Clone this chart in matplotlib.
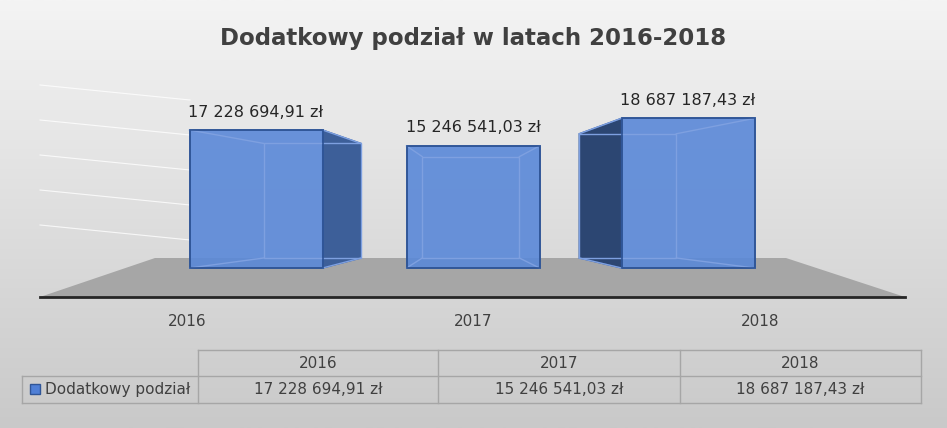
import matplotlib
matplotlib.use("Agg")
import matplotlib.pyplot as plt
import numpy as np
from matplotlib.patches import Polygon, Rectangle

years = ["2016", "2017", "2018"]
values = [17228694.91, 15246541.03, 18687187.43]
labels = ["17 228 694,91 zł", "15 246 541,03 zł", "18 687 187,43 zł"]
series = "Dodatkowy podział"
title = "Dodatkowy podział w latach 2016-2018"

W, H = 947, 428
fig = plt.figure(figsize=(W/100, H/100), dpi=100)
ax = fig.add_axes([0, 0, 1, 1])
ax.set_xlim(0, W); ax.set_ylim(H, 0); ax.axis("off")

grad = np.linspace(0, 1, 256)[:, None]
ax.imshow(grad, extent=[0, W, H, 0], cmap=matplotlib.colors.LinearSegmentedColormap.from_list("g", ["#f4f4f4", "#c9c9c9"]), aspect="auto", zorder=0)

xv, s = 465, 0.27
base_f, base_b = 268, 258
scale = 138 / 17228694.91
def back(x, y):
    return x + (xv - x) * s, base_b - (base_f - y) * 0.83

for gy in [95, 130, 165, 200, 235]:
    ax.plot([40, 190], [gy - 10, gy + 5], color="white", lw=0.8, alpha=0.8, zorder=1)

fl = [(40, 297), (905, 297), (786, 258), (155, 258)]
ax.add_patch(Polygon(fl, closed=True, fc="#a6a6a6", ec="none", zorder=1))
ax.plot([40, 905], [297, 297], color="#262626", lw=2, zorder=2)

centers = [256, 473, 688]
bw = 133
edge = "#2F5597"
for c, v, lab in zip(centers, values, labels):
    x0, x1 = c - bw/2, c + bw/2
    yt = base_f - v * scale
    b0 = back(x0, yt); b1 = back(x1, yt); b2 = back(x1, base_f); b3 = back(x0, base_f)
    if x1 < xv - 20:
        ax.add_patch(Polygon([(x1, yt), b1, b2, (x1, base_f)], closed=True, fc="#3d5f99", ec=edge, lw=1, zorder=4))
    elif x0 > xv + 20:
        ax.add_patch(Polygon([(x0, yt), b0, b3, (x0, base_f)], closed=True, fc="#2c4672", ec=edge, lw=1, zorder=4))
    ax.add_patch(Rectangle((x0, yt), bw, base_f - yt, fc="#5a88d8", alpha=0.9, ec=edge, lw=1.2, zorder=6))
    ax.add_patch(Polygon([b0, b1, b2, b3], closed=True, fill=False, ec="#7ea0e0", lw=1, zorder=7))
    for p, q in [((x0, yt), b0), ((x1, yt), b1), ((x0, base_f), b3), ((x1, base_f), b2)]:
        ax.plot([p[0], q[0]], [p[1], q[1]], color="#7ea0e0", lw=1, zorder=7)
    ax.add_patch(Rectangle((x0, yt), bw, base_f - yt, fill=False, ec=edge, lw=1.2, zorder=8))
    ax.text(c, yt - 18, lab, ha="center", va="center", fontsize=11.5, color="#262626", zorder=9)

ax.text(W/2, 38, title, ha="center", va="center", fontsize=16.5, fontweight="bold", color="#404040")
for c, y in zip([187, 473, 760], years):
    ax.text(c, 322, y, ha="center", va="center", fontsize=11, color="#404040")

cols = [22, 198, 438, 680, 921]
r0, r1, r2 = 350, 376, 403
lc = "#a6a6a6"
ax.plot([198, 921], [r0, r0], color=lc, lw=1)
ax.plot([22, 921], [r1, r1], color=lc, lw=1)
ax.plot([22, 921], [r2, r2], color=lc, lw=1)
ax.plot([22, 22], [r1, r2], color=lc, lw=1)
for x in cols[1:]:
    ax.plot([x, x], [r0, r2], color=lc, lw=1)
for i, (y, lab) in enumerate(zip(years, labels)):
    cx = (cols[i+1] + cols[i+2]) / 2
    ax.text(cx, (r0+r1)/2, y, ha="center", va="center", fontsize=11, color="#404040")
    ax.text(cx, (r1+r2)/2, lab, ha="center", va="center", fontsize=11, color="#404040")
ax.add_patch(Rectangle((30, 384), 10, 10, fc="#4f7fd6", ec=edge, lw=1))
ax.text(45, (r1+r2)/2, series, ha="left", va="center", fontsize=11, color="#404040")

fig.savefig("out.png", dpi=100)
